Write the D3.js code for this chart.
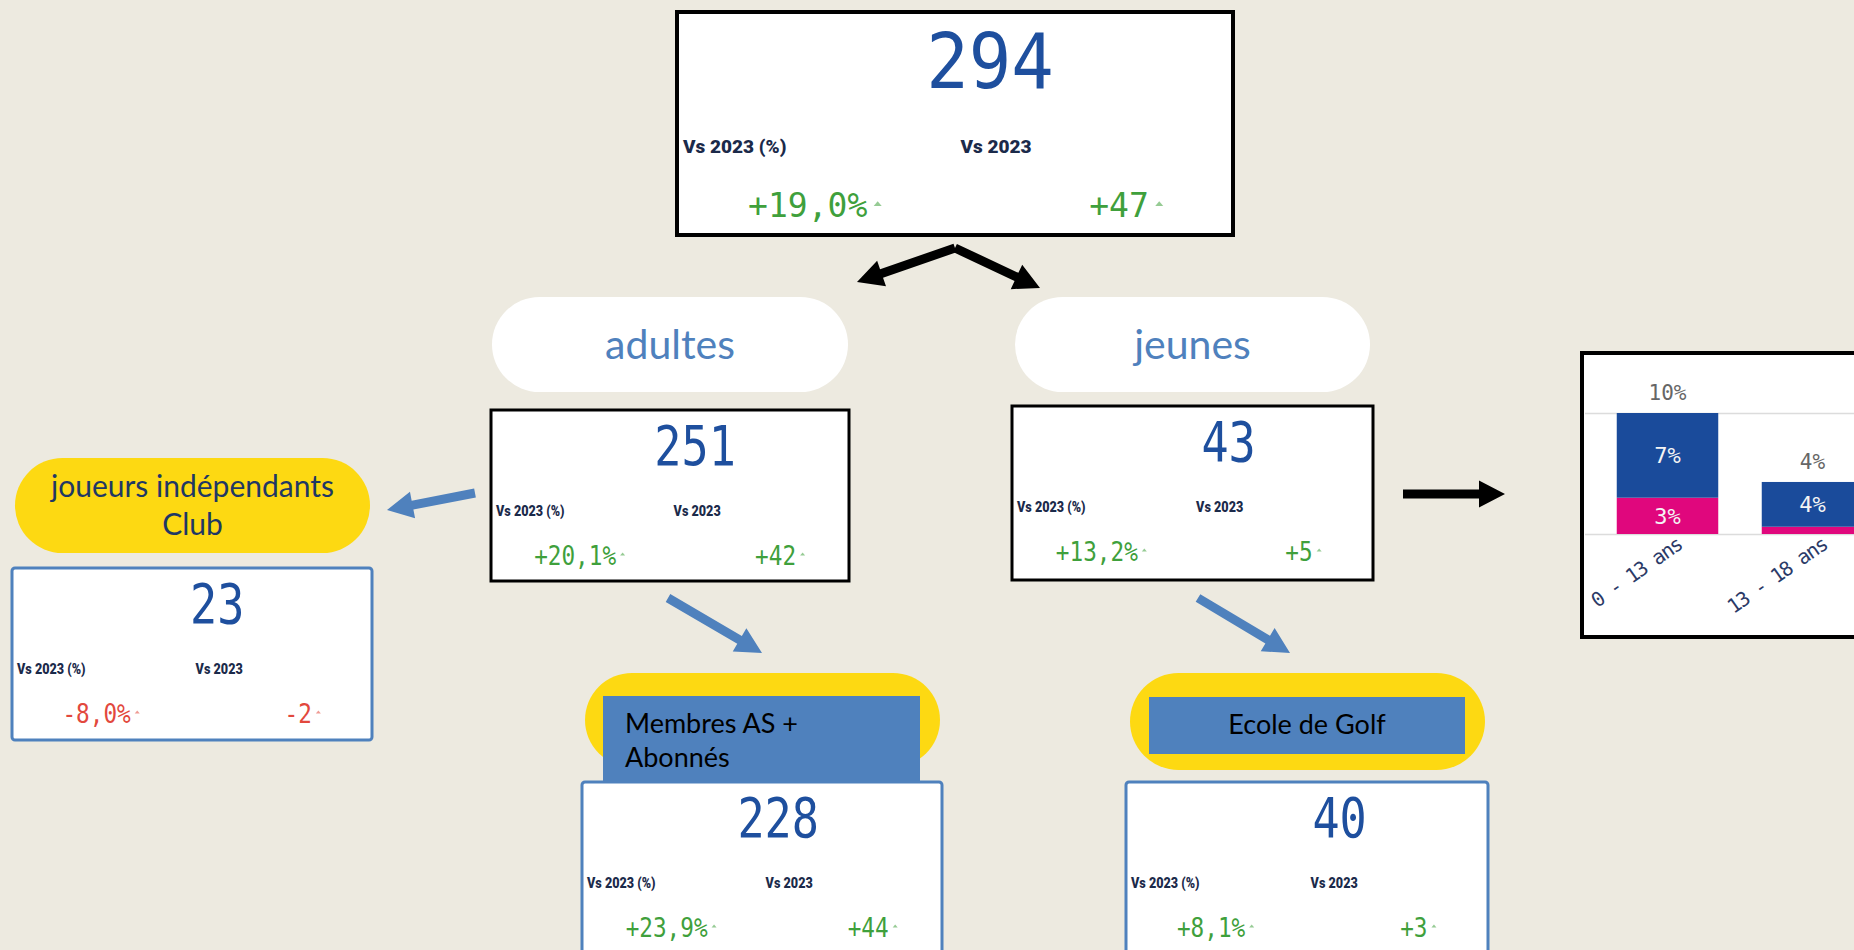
<!DOCTYPE html>
<html lang="fr">
<head>
<meta charset="utf-8">
<title>Joueurs 2024 vs 2023</title>
<script src="https://cdn.jsdelivr.net/npm/d3@7"></script>
<style>
  html, body { margin: 0; padding: 0; background: #edeae0; overflow: hidden; }
  svg { display: block; }
</style>
</head>
<body>
<svg id="chart" width="1854" height="950"></svg>
<script>
var groupes = ["Total", "adultes", "jeunes", "joueurs indépendants\nClub", "Membres AS +\nAbonnés", "Ecole de Golf"];
var effectifs = [294, 251, 43, 23, 228, 40];
var evolPct = [19.0, 20.1, 13.2, -8.0, 23.9, 8.1];
var evolAbs = [47, 42, 5, -2, 44, 3];
var anneeRef = 2023;

var tranchesAge = ["0 - 13 ans", "13 - 18 ans"];
var partBleu = [7, 3.7];
var partRose = [3, 0.6];
var yTicks = [0, 10];

// --- mise en forme ---
var loc = d3.formatLocale({decimal: ",", thousands: "\u00a0", grouping: [3], currency: ["", " €"], minus: "-"});
var fmtPct = loc.format("+.1f");
var fmtAbs = loc.format("+d");
var fmtEntier = loc.format("d");
var fmtPart = loc.format(".0f");

var BLEU = "#4f81bd", JAUNE = "#fdd912", VALEUR = "#1e4f9e", NAVY = "#1b2a4a",
    VERT = "#3fa03c", ROUGE = "#e2483d";
var MONO = "'DejaVu Sans Mono', monospace", TEXTE = "Lato, 'Open Sans', sans-serif",
    LABEL = "Roboto, 'Noto Sans', sans-serif";

var svg = d3.select("#chart");

function ecrire(g, str, x, y, o) {
  var t = g.append("text")
    .attr("x", x).attr("y", y)
    .attr("text-anchor", o.anchor || "start")
    .style("font-family", o.family || MONO)
    .style("font-size", o.size + "px")
    .style("font-weight", o.weight || "normal")
    .attr("fill", o.color || "#000")
    .text(str);
  var len = t.node().getComputedTextLength();
  if (o.k && o.k !== 1) {
    len = len * o.k;
    t.attr("textLength", len).attr("lengthAdjust", "spacingAndGlyphs");
  }
  return len;
}

// flèches
var fleches = [
  {de: [955, 248], a: [857, 282], c: "#000"},
  {de: [955, 248], a: [1040, 288], c: "#000"},
  {de: [1403, 494], a: [1505, 494], c: "#000"},
  {de: [475, 493], a: [387, 510], c: BLEU},
  {de: [668, 598], a: [762, 653], c: BLEU},
  {de: [1198, 598], a: [1290, 653], c: BLEU}
];

function fleche(d) {
  var dx = d.a[0] - d.de[0], dy = d.a[1] - d.de[1];
  var L = Math.hypot(dx, dy), ang = Math.atan2(dy, dx) * 180 / Math.PI;
  var s = 9, hw = 27, hl = 26;
  var p = d3.path();
  p.moveTo(0, -s / 2);
  p.lineTo(L - hl, -s / 2);
  p.lineTo(L - hl, -hw / 2);
  p.lineTo(L, 0);
  p.lineTo(L - hl, hw / 2);
  p.lineTo(L - hl, s / 2);
  p.lineTo(0, s / 2);
  p.closePath();
  svg.append("path")
    .attr("d", p.toString())
    .attr("transform", "translate(" + d.de + ") rotate(" + ang + ")")
    .attr("fill", d.c);
}
fleches.forEach(fleche);

// pastilles (titres des groupes)
var pastilles = [
  {i: 1, x: 492, y: 297, w: 356, h: 95, fond: "#fff", couleur: BLEU, taille: 41},
  {i: 2, x: 1015, y: 297, w: 355, h: 95, fond: "#fff", couleur: BLEU, taille: 41},
  {i: 3, x: 15, y: 458, w: 355, h: 95, fond: JAUNE, couleur: "#1f3864", taille: 30, interligne: 38},
  {i: 4, x: 585, y: 673, w: 355, h: 94, fond: JAUNE, bandeau: {x: 603, y: 696, w: 317, h: 86}, taille: 27, interligne: 34, gauche: 625, base: 733},
  {i: 5, x: 1130, y: 673, w: 355, h: 97, fond: JAUNE, bandeau: {x: 1149, y: 697, w: 316, h: 57}, taille: 27, base: 734}
];

pastilles.forEach(function (p) {
  svg.append("rect")
    .attr("x", p.x).attr("y", p.y).attr("width", p.w).attr("height", p.h)
    .attr("rx", p.h / 2).attr("ry", p.h / 2)
    .attr("fill", p.fond);
  var lignes = groupes[p.i].split("\n");
  if (p.bandeau) {
    svg.append("rect")
      .attr("x", p.bandeau.x).attr("y", p.bandeau.y)
      .attr("width", p.bandeau.w).attr("height", p.bandeau.h)
      .attr("fill", BLEU);
    lignes.forEach(function (l, j) {
      ecrire(svg, l, p.gauche || (p.bandeau.x + p.bandeau.w / 2), p.base + j * (p.interligne || 0),
        {size: p.taille, family: TEXTE, color: "#000", anchor: p.gauche ? "start" : "middle"});
    });
  } else {
    var cy = p.y + p.h / 2, ih = p.interligne || 0;
    var y0 = cy - (lignes.length - 1) * ih / 2 + 0.36 * p.taille;
    lignes.forEach(function (l, j) {
      ecrire(svg, l, p.x + p.w / 2, y0 + j * ih,
        {size: p.taille, family: TEXTE, color: p.couleur, anchor: "middle"});
    });
  }
});

// cartes KPI
var boites = [
  {i: 0, x: 677, y: 12, w: 556, h: 223, bord: "#000", ep: 4, grand: true, vx: 0.563},
  {i: 1, x: 491, y: 410, w: 358, h: 171, bord: "#000", ep: 3, vx: 0.57},
  {i: 2, x: 1012, y: 406, w: 361, h: 174, bord: "#000", ep: 3, vx: 0.60},
  {i: 3, x: 12, y: 568, w: 360, h: 172, bord: BLEU, ep: 3, vx: 0.57, rx: 3},
  {i: 4, x: 582, y: 782, w: 360, h: 210, bord: BLEU, ep: 3, vx: 0.545, rx: 3},
  {i: 5, x: 1126, y: 782, w: 362, h: 210, bord: BLEU, ep: 3, vx: 0.59, rx: 3}
];
var gabarits = {
  grand: {val: 76, yVal: 76, kVal: 0.93, lab: 19, yLab: 141, kLab: 1, del: 33, yDel: 205, kDel: 1, xLab: 6, tri: 8},
  petit: {val: 55, yVal: 55, kVal: 0.82, lab: 15, yLab: 106, kLab: 0.84, del: 27, yDel: 155, kDel: 0.84, xLab: 5, tri: 5}
};

function ecart(g, str, cx, y, t, couleur) {
  var len = ecrire(g, str, cx, y, {size: t.del, color: couleur, anchor: "middle", k: t.kDel});
  var x0 = cx + len / 2 + t.tri * 0.8, yt = y - t.del * 0.42;
  g.append("path")
    .attr("d", "M" + x0 + "," + (yt + t.tri * 0.35) + " L" + (x0 + t.tri) + "," + (yt + t.tri * 0.35) +
      " L" + (x0 + t.tri / 2) + "," + (yt - t.tri * 0.25) + " Z")
    .attr("fill", couleur).attr("opacity", 0.55);
}

boites.forEach(function (b) {
  var t = b.grand ? gabarits.grand : gabarits.petit;
  var g = svg.append("g").attr("transform", "translate(" + b.x + "," + b.y + ")");
  g.append("rect")
    .attr("width", b.w).attr("height", b.h)
    .attr("rx", b.rx || 0)
    .attr("fill", "#fff")
    .attr("stroke", b.bord).attr("stroke-width", b.ep);
  ecrire(g, fmtEntier(effectifs[b.i]), b.w * b.vx, t.yVal, {size: t.val, color: VALEUR, anchor: "middle", k: t.kVal});
  ecrire(g, "Vs " + anneeRef + " (%)", t.xLab, t.yLab, {size: t.lab, weight: 900, color: NAVY, family: LABEL, k: t.kLab});
  ecrire(g, "Vs " + anneeRef, b.w * 0.51, t.yLab, {size: t.lab, weight: 900, color: NAVY, family: LABEL, k: t.kLab});
  var cp = evolPct[b.i] < 0 ? ROUGE : VERT;
  var ca = evolAbs[b.i] < 0 ? ROUGE : VERT;
  ecart(g, fmtPct(evolPct[b.i]) + "%", b.w * 0.235, t.yDel, t, cp);
  ecart(g, fmtAbs(evolAbs[b.i]), b.w * 0.795, t.yDel, t, ca);
});

// histogramme empilé par tranche d'âge
var cadre = {x: 1582, y: 353, w: 340, h: 284};
svg.append("rect")
  .attr("x", cadre.x).attr("y", cadre.y).attr("width", cadre.w).attr("height", cadre.h)
  .attr("fill", "#fff").attr("stroke", "#000").attr("stroke-width", 4);

var x = d3.scaleBand().domain(tranchesAge).range([1595, 1885]).paddingInner(0.3).paddingOuter(0.15);
var y = d3.scaleLinear().domain([0, 10]).range([534, 413]);

svg.append("g")
  .attr("transform", "translate(" + (cadre.x + 3) + ",0)")
  .call(d3.axisRight(y).tickValues(yTicks).tickSize(cadre.w).tickFormat(""))
  .call(function (g) { g.select(".domain").remove(); })
  .selectAll("line").attr("stroke", "#dcdcdc").attr("stroke-width", 1.5);

var lignesAge = tranchesAge.map(function (t, i) { return {age: t, rose: partRose[i], bleu: partBleu[i]}; });
var series = d3.stack().keys(["rose", "bleu"])(lignesAge);
var couleurs = {rose: "#e0077d", bleu: "#1a4b9b"};

var couches = svg.append("g").selectAll("g").data(series).join("g")
  .attr("fill", function (s) { return couleurs[s.key]; });
couches.selectAll("rect").data(function (s) { return s; }).join("rect")
  .attr("x", function (d) { return x(d.data.age); })
  .attr("width", x.bandwidth())
  .attr("y", function (d) { return y(d[1]); })
  .attr("height", function (d) { return y(d[0]) - y(d[1]); });

couches.selectAll("text").data(function (s) { return s.filter(function (d) { return y(d[0]) - y(d[1]) > 22; }); }).join("text")
  .attr("x", function (d) { return x(d.data.age) + x.bandwidth() / 2; })
  .attr("y", function (d) { return (y(d[0]) + y(d[1])) / 2; })
  .attr("dy", "0.35em")
  .attr("text-anchor", "middle")
  .attr("fill", "#f4f4f4")
  .style("font-family", MONO).style("font-size", "22px")
  .text(function (d) { return fmtPart(d[1] - d[0]) + "%"; });

svg.append("g").selectAll("text").data(lignesAge).join("text")
  .attr("x", function (d) { return x(d.age) + x.bandwidth() / 2; })
  .attr("y", function (d) { return y(d.rose + d.bleu) - 13; })
  .attr("text-anchor", "middle")
  .attr("fill", "#666")
  .style("font-family", MONO).style("font-size", "21px")
  .text(function (d) { return fmtPart(d.rose + d.bleu) + "%"; });

svg.append("g")
  .attr("transform", "translate(0," + y(0) + ")")
  .call(d3.axisBottom(x).tickSize(0).tickPadding(0))
  .call(function (g) { g.select(".domain").remove(); })
  .selectAll("text")
  .attr("y", 0).attr("dy", "0.35em")
  .attr("text-anchor", "end")
  .attr("transform", "translate(12,8) rotate(-35)")
  .attr("fill", "#2b3a67")
  .style("font-family", MONO).style("font-size", "20px").style("letter-spacing", "-1.5px");
</script>
</body>
</html>
